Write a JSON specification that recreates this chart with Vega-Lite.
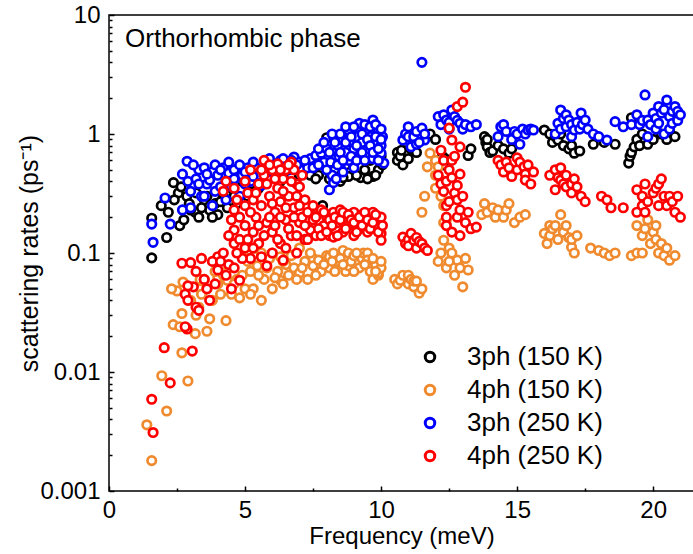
{
  "$schema": "https://vega.github.io/schema/vega-lite/v6.json",
  "autosize": {"type": "none"},
  "padding": {"left": 109, "top": 15, "right": 0, "bottom": 63},
  "width": 585,
  "height": 476,
  "config": {"view": {"stroke": "#000000", "strokeWidth": 1.5}, "font": "Liberation Sans"},
  "datasets": {
    "b150": [
      {"x":1.57,"y":0.196},{"x":1.57,"y":0.091},{"x":2.12,"y":0.135},{"x":1.92,"y":0.25},{"x":2.37,"y":0.39},{"x":2.55,"y":0.32},{"x":2.86,"y":0.3},{"x":2.18,"y":0.22},{"x":2.6,"y":0.17},{"x":3.17,"y":0.22},{"x":2.75,"y":0.19},{"x":2.95,"y":0.26},{"x":3.3,"y":0.2},{"x":3.5,"y":0.28},{"x":3.7,"y":0.23},{"x":3.9,"y":0.26},{"x":4.0,"y":0.21},{"x":4.2,"y":0.3},{"x":4.35,"y":0.24},{"x":4.5,"y":0.35},{"x":4.7,"y":0.26},{"x":4.9,"y":0.4},{"x":5.1,"y":0.3},{"x":5.3,"y":0.45},{"x":5.5,"y":0.35},{"x":5.7,"y":0.5},{"x":5.9,"y":0.42},{"x":6.1,"y":0.55},{"x":6.3,"y":0.4},{"x":6.5,"y":0.5},{"x":6.7,"y":0.45},{"x":6.9,"y":0.55},{"x":7.1,"y":0.48},{"x":7.3,"y":0.6},{"x":7.5,"y":0.5},{"x":7.7,"y":0.45},{"x":7.85,"y":0.25},{"x":7.9,"y":0.55},{"x":8.0,"y":0.93},{"x":8.1,"y":0.42},{"x":8.3,"y":0.5},{"x":8.5,"y":0.4},{"x":8.7,"y":0.55},{"x":8.8,"y":0.44},{"x":9.0,"y":0.6},{"x":9.25,"y":0.43},{"x":9.4,"y":0.5},{"x":9.6,"y":0.6},{"x":9.7,"y":0.44},{"x":9.9,"y":0.5},{"x":10.0,"y":0.65},
      {"x":2.4,"y":0.28},{"x":2.65,"y":0.36},{"x":3.0,"y":0.23},{"x":3.2,"y":0.32},{"x":3.4,"y":0.24},{"x":3.6,"y":0.3},{"x":3.8,"y":0.2},{"x":4.1,"y":0.27},{"x":4.6,"y":0.3},{"x":4.8,"y":0.45},{"x":5.0,"y":0.42},{"x":5.2,"y":0.38},{"x":5.4,"y":0.48},{"x":7.0,"y":0.45},{"x":7.4,"y":0.45},{"x":7.6,"y":0.42},{"x":8.2,"y":0.45},{"x":8.6,"y":0.43},{"x":9.1,"y":0.45},{"x":9.5,"y":0.42},{"x":9.8,"y":0.45},{"x":10.05,"y":0.55},
      {"x":10.6,"y":0.6},{"x":10.6,"y":0.7},{"x":10.7,"y":0.65},{"x":10.75,"y":0.73},{"x":10.8,"y":0.55},{"x":10.9,"y":0.85},{"x":11.0,"y":0.62},{"x":11.1,"y":0.75},{"x":11.2,"y":0.89},{"x":11.3,"y":0.7},{"x":11.5,"y":0.95},{"x":11.8,"y":1.0},{"x":12.0,"y":0.9},{"x":12.25,"y":0.65},{"x":12.3,"y":0.55},{"x":12.35,"y":0.62},{"x":13.2,"y":0.66},{"x":13.3,"y":0.75},{"x":13.8,"y":0.95},{"x":13.85,"y":0.85},{"x":13.9,"y":0.78},{"x":13.9,"y":0.9},{"x":14.0,"y":0.7},{"x":14.1,"y":0.72},{"x":14.3,"y":0.8},{"x":14.5,"y":0.75},{"x":14.7,"y":0.69},{"x":14.8,"y":0.75},{"x":16.0,"y":1.08},{"x":16.2,"y":1.0},{"x":16.3,"y":0.85},{"x":16.4,"y":0.95},{"x":16.5,"y":0.89},{"x":16.6,"y":1.0},{"x":16.7,"y":0.8},{"x":16.9,"y":0.75},{"x":17.0,"y":0.8},{"x":17.1,"y":0.69},{"x":17.3,"y":0.72},{"x":17.8,"y":0.82},{"x":18.2,"y":0.85},{"x":18.6,"y":0.82},{"x":19.1,"y":0.57},{"x":19.15,"y":0.65},{"x":19.2,"y":0.7},{"x":19.2,"y":1.37},{"x":19.3,"y":0.78},{"x":19.4,"y":0.9},{"x":19.5,"y":0.8},{"x":19.6,"y":1.0},{"x":19.8,"y":0.82},{"x":20.0,"y":0.9},{"x":20.3,"y":1.0},{"x":20.5,"y":0.9},{"x":20.6,"y":1.04},{"x":20.8,"y":0.95}
    ],
    "o150": [
      {"x":1.57,"y":0.0018},{"x":1.39,"y":0.0036},{"x":1.94,"y":0.0093},{"x":2.12,"y":0.0047},{"x":2.9,"y":0.0084},{"x":2.68,"y":0.0145},{"x":2.36,"y":0.025},{"x":2.68,"y":0.031},{"x":2.5,"y":0.048},{"x":2.72,"y":0.057},{"x":3.17,"y":0.021},{"x":2.3,"y":0.05},{"x":2.6,"y":0.024},{"x":3.2,"y":0.03},{"x":3.35,"y":0.05},{"x":3.35,"y":0.06},{"x":3.4,"y":0.045},{"x":3.6,"y":0.022},{"x":3.5,"y":0.06},{"x":3.7,"y":0.028},{"x":3.8,"y":0.04},{"x":4.0,"y":0.055},{"x":4.0,"y":0.062},{"x":4.3,"y":0.027},{"x":4.2,"y":0.065},{"x":4.35,"y":0.059},{"x":4.5,"y":0.045},{"x":4.8,"y":0.042},{"x":4.7,"y":0.06},{"x":5.0,"y":0.05},{"x":5.1,"y":0.105},{"x":5.3,"y":0.05},{"x":5.2,"y":0.07},{"x":5.4,"y":0.11},{"x":5.45,"y":0.078},{"x":5.6,"y":0.04},{"x":5.6,"y":0.1},{"x":5.7,"y":0.06},{"x":5.9,"y":0.09},{"x":6.0,"y":0.05},{"x":6.2,"y":0.07},{"x":6.3,"y":0.059},{"x":6.3,"y":0.093},{"x":6.4,"y":0.055},{"x":6.5,"y":0.08},{"x":6.6,"y":0.065},{"x":6.8,"y":0.075},{"x":7.0,"y":0.068},{"x":7.0,"y":0.11},{"x":7.2,"y":0.085},{"x":7.3,"y":0.06},{"x":7.5,"y":0.09},{"x":7.5,"y":0.078},{"x":7.7,"y":0.087},{"x":7.8,"y":0.07},{"x":8.0,"y":0.095},{"x":8.1,"y":0.075},{"x":8.1,"y":0.093},{"x":8.25,"y":0.1},{"x":8.4,"y":0.085},{"x":8.6,"y":0.105},{"x":8.7,"y":0.07},{"x":8.8,"y":0.1},{"x":8.8,"y":0.078},{"x":8.9,"y":0.085},{"x":9.0,"y":0.095},{"x":9.2,"y":0.075},{"x":9.3,"y":0.09},{"x":9.35,"y":0.1},{"x":9.5,"y":0.1},{"x":9.5,"y":0.087},{"x":9.6,"y":0.07},{"x":9.7,"y":0.06},{"x":9.8,"y":0.08},{"x":9.9,"y":0.065},{"x":9.9,"y":0.068},{"x":10.0,"y":0.075},
      {"x":3.0,"y":0.04},{"x":3.3,"y":0.035},{"x":3.6,"y":0.05},{"x":3.9,"y":0.07},{"x":4.1,"y":0.045},{"x":4.4,"y":0.075},{"x":4.6,"y":0.055},{"x":4.9,"y":0.065},{"x":5.1,"y":0.085},{"x":5.2,"y":0.045},{"x":5.5,"y":0.065},{"x":5.8,"y":0.075},{"x":6.0,"y":0.1},{"x":6.1,"y":0.062},{"x":6.4,"y":0.085},{"x":6.7,"y":0.095},{"x":6.9,"y":0.06},{"x":7.1,"y":0.075},{"x":7.4,"y":0.1},{"x":7.6,"y":0.065},{"x":7.9,"y":0.08},{"x":8.2,"y":0.085},{"x":8.3,"y":0.07},{"x":8.5,"y":0.09},{"x":8.6,"y":0.08},{"x":9.0,"y":0.07},{"x":9.1,"y":0.1},{"x":9.4,"y":0.08},{"x":9.7,"y":0.09},{"x":9.8,"y":0.07},{"x":10.0,"y":0.085},
      {"x":10.5,"y":0.06},{"x":10.6,"y":0.055},{"x":10.7,"y":0.059},{"x":10.8,"y":0.065},{"x":11.0,"y":0.055},{"x":11.0,"y":0.065},{"x":11.1,"y":0.06},{"x":11.2,"y":0.052},{"x":11.2,"y":0.058},{"x":11.3,"y":0.058},{"x":11.4,"y":0.046},{"x":11.5,"y":0.05},
      {"x":11.5,"y":0.22},{"x":11.6,"y":0.3},{"x":11.7,"y":0.53},{"x":11.8,"y":0.69},{"x":12.0,"y":0.6},{"x":12.0,"y":0.45},{"x":12.1,"y":0.53},{"x":12.2,"y":0.41},{"x":12.2,"y":0.3},{"x":12.0,"y":0.35},{"x":12.3,"y":0.25},{"x":12.4,"y":0.19},{"x":12.3,"y":0.18},{"x":12.3,"y":0.128},{"x":12.2,"y":0.1},{"x":12.5,"y":0.11},{"x":12.6,"y":0.1},{"x":12.4,"y":0.075},{"x":12.8,"y":0.087},{"x":13.2,"y":0.072},{"x":13.0,"y":0.052},{"x":12.5,"y":0.085},{"x":12.9,"y":0.075},{"x":12.1,"y":0.085},{"x":12.7,"y":0.065},{"x":13.1,"y":0.09},
      {"x":13.7,"y":0.21},{"x":13.8,"y":0.26},{"x":13.9,"y":0.22},{"x":14.1,"y":0.24},{"x":14.2,"y":0.2},{"x":14.3,"y":0.23},{"x":14.5,"y":0.2},{"x":14.6,"y":0.23},{"x":14.7,"y":0.26},{"x":14.9,"y":0.18},{"x":15.1,"y":0.2},{"x":15.3,"y":0.21},
      {"x":16.0,"y":0.146},{"x":16.1,"y":0.12},{"x":16.2,"y":0.14},{"x":16.2,"y":0.17},{"x":16.3,"y":0.16},{"x":16.4,"y":0.17},{"x":16.5,"y":0.13},{"x":16.6,"y":0.21},{"x":16.7,"y":0.15},{"x":16.8,"y":0.17},{"x":16.9,"y":0.135},{"x":17.0,"y":0.112},{"x":17.0,"y":0.13},{"x":17.1,"y":0.1},{"x":17.2,"y":0.14},
      {"x":17.7,"y":0.11},{"x":18.0,"y":0.105},{"x":18.2,"y":0.1},{"x":18.4,"y":0.095},{"x":18.6,"y":0.1},
      {"x":19.2,"y":0.095},{"x":19.4,"y":0.1},{"x":19.4,"y":0.17},{"x":19.6,"y":0.14},{"x":19.6,"y":0.1},{"x":19.7,"y":0.16},{"x":19.8,"y":0.19},{"x":19.9,"y":0.12},{"x":20.0,"y":0.15},{"x":20.1,"y":0.17},{"x":20.1,"y":0.13},{"x":20.2,"y":0.1},{"x":20.3,"y":0.12},{"x":20.4,"y":0.095},{"x":20.5,"y":0.11},{"x":20.6,"y":0.087},{"x":20.8,"y":0.095}
    ],
    "b250": [
      {"x":1.57,"y":0.175},{"x":1.62,"y":0.123},{"x":2.06,"y":0.29},{"x":2.25,"y":0.175},{"x":2.87,"y":0.59},{"x":2.7,"y":0.46},{"x":2.7,"y":0.23},{"x":2.9,"y":0.4},{"x":3.0,"y":0.24},{"x":3.0,"y":0.33},{"x":3.2,"y":0.42},{"x":3.3,"y":0.5},{"x":3.4,"y":0.3},{"x":3.5,"y":0.52},{"x":3.5,"y":0.3},{"x":3.6,"y":0.38},{"x":3.7,"y":0.41},{"x":3.8,"y":0.48},{"x":3.8,"y":0.25},{"x":3.9,"y":0.33},{"x":4.0,"y":0.45},{"x":4.2,"y":0.52},{"x":4.3,"y":0.4},{"x":4.3,"y":0.28},{"x":4.4,"y":0.47},{"x":4.5,"y":0.36},{"x":4.6,"y":0.5},{"x":4.7,"y":0.43},{"x":4.8,"y":0.3},{"x":4.9,"y":0.45},{"x":5.1,"y":0.52},{"x":5.2,"y":0.4},{"x":5.4,"y":0.52},{"x":5.5,"y":0.45},{"x":5.6,"y":0.37},{"x":5.8,"y":0.55},{"x":6.0,"y":0.48},{"x":6.3,"y":0.6},{"x":6.5,"y":0.55},{"x":6.8,"y":0.64},{"x":7.0,"y":0.58},{"x":7.1,"y":0.5},{"x":7.3,"y":0.52},{"x":7.4,"y":0.62},{"x":7.5,"y":0.52},{"x":7.6,"y":0.66},{"x":7.8,"y":0.69},{"x":7.9,"y":0.58},{"x":8.0,"y":0.75},{"x":8.1,"y":0.34},{"x":8.2,"y":0.45},{"x":8.25,"y":0.39},{"x":8.25,"y":0.95},{"x":8.3,"y":0.62},{"x":8.4,"y":0.8},{"x":8.5,"y":0.55},{"x":8.6,"y":0.9},{"x":8.6,"y":0.48},{"x":8.7,"y":0.7},{"x":8.8,"y":1.08},{"x":8.8,"y":0.6},{"x":8.9,"y":0.85},{"x":9.0,"y":0.75},{"x":9.0,"y":0.52},{"x":9.1,"y":0.95},{"x":9.2,"y":1.23},{"x":9.2,"y":0.65},{"x":9.3,"y":0.85},{"x":9.4,"y":1.05},{"x":9.5,"y":0.75},{"x":9.6,"y":0.95},{"x":9.7,"y":1.31},{"x":9.7,"y":0.62},{"x":9.8,"y":0.85},{"x":9.9,"y":1.05},{"x":10.0,"y":0.69},{"x":10.0,"y":0.8},{"x":10.1,"y":0.57},{"x":10.05,"y":0.95},
      {"x":3.1,"y":0.55},{"x":3.3,"y":0.38},{"x":3.6,"y":0.46},{"x":3.9,"y":0.55},{"x":4.1,"y":0.36},{"x":4.1,"y":0.5},{"x":4.4,"y":0.58},{"x":4.6,"y":0.42},{"x":4.8,"y":0.55},{"x":5.0,"y":0.38},{"x":5.0,"y":0.48},{"x":5.3,"y":0.58},{"x":5.3,"y":0.44},{"x":5.7,"y":0.5},{"x":5.9,"y":0.62},{"x":6.1,"y":0.55},{"x":6.2,"y":0.45},{"x":6.4,"y":0.62},{"x":6.6,"y":0.5},{"x":6.7,"y":0.6},{"x":6.9,"y":0.55},{"x":7.2,"y":0.6},{"x":7.7,"y":0.55},{"x":7.7,"y":0.75},{"x":7.9,"y":0.85},{"x":8.0,"y":0.5},{"x":8.1,"y":0.7},{"x":8.15,"y":0.58},{"x":8.2,"y":1.0},{"x":8.3,"y":0.85},{"x":8.35,"y":0.42},{"x":8.4,"y":0.55},{"x":8.45,"y":0.65},{"x":8.5,"y":1.0},{"x":8.5,"y":0.7},{"x":8.6,"y":0.6},{"x":8.7,"y":0.85},{"x":8.7,"y":1.15},{"x":8.9,"y":0.65},{"x":8.9,"y":0.95},{"x":9.0,"y":1.15},{"x":9.1,"y":0.8},{"x":9.1,"y":0.6},{"x":9.3,"y":1.0},{"x":9.3,"y":0.7},{"x":9.4,"y":0.6},{"x":9.4,"y":1.2},{"x":9.5,"y":0.9},{"x":9.6,"y":1.15},{"x":9.6,"y":0.8},{"x":9.7,"y":0.7},{"x":9.8,"y":1.2},{"x":9.8,"y":0.95},{"x":9.9,"y":0.75},{"x":9.9,"y":0.6},{"x":10.0,"y":1.1},{"x":10.0,"y":0.9},
      {"x":10.8,"y":0.89},{"x":10.9,"y":1.0},{"x":11.0,"y":1.15},{"x":11.0,"y":0.95},{"x":11.1,"y":0.78},{"x":11.2,"y":0.95},{"x":11.3,"y":1.05},{"x":11.3,"y":0.82},{"x":11.5,"y":1.12},{"x":11.5,"y":4.0},{"x":11.6,"y":0.89},{"x":11.6,"y":1.0},{"x":11.4,"y":0.85},{"x":12.1,"y":1.4},{"x":12.2,"y":1.2},{"x":12.3,"y":1.45},{"x":12.4,"y":1.31},{"x":12.5,"y":1.1},{"x":12.5,"y":1.25},{"x":12.6,"y":1.59},{"x":12.7,"y":1.4},{"x":12.8,"y":1.3},{"x":12.9,"y":1.23},{"x":13.0,"y":1.1},{"x":13.1,"y":1.2},{"x":13.3,"y":1.15},{"x":13.5,"y":1.2},
      {"x":14.3,"y":0.95},{"x":14.4,"y":1.15},{"x":14.5,"y":1.2},{"x":14.6,"y":1.05},{"x":14.8,"y":0.9},{"x":14.9,"y":1.05},{"x":15.0,"y":1.0},{"x":15.1,"y":0.82},{"x":15.2,"y":1.1},{"x":15.3,"y":1.0},{"x":15.4,"y":1.08},{"x":15.5,"y":1.1},{"x":15.6,"y":1.08},
      {"x":16.4,"y":1.0},{"x":16.5,"y":1.23},{"x":16.6,"y":1.59},{"x":16.6,"y":1.1},{"x":16.7,"y":1.35},{"x":16.8,"y":1.15},{"x":16.8,"y":1.45},{"x":16.9,"y":1.31},{"x":17.0,"y":0.95},{"x":17.0,"y":1.2},{"x":17.1,"y":1.08},{"x":17.2,"y":1.25},{"x":17.3,"y":1.1},{"x":17.35,"y":1.5},{"x":17.4,"y":1.2},{"x":17.5,"y":1.31},{"x":17.6,"y":1.1},{"x":17.8,"y":1.0},{"x":18.0,"y":0.95},{"x":18.3,"y":0.89},
      {"x":18.6,"y":1.27},{"x":18.9,"y":1.15},{"x":19.2,"y":1.2},{"x":19.4,"y":1.45},{"x":19.5,"y":1.2},{"x":19.6,"y":1.3},{"x":19.7,"y":2.13},{"x":19.8,"y":1.31},{"x":19.8,"y":0.95},{"x":19.9,"y":1.2},{"x":20.0,"y":1.5},{"x":20.1,"y":1.1},{"x":20.1,"y":1.35},{"x":20.2,"y":1.7},{"x":20.2,"y":1.23},{"x":20.3,"y":1.5},{"x":20.4,"y":1.0},{"x":20.4,"y":1.6},{"x":20.5,"y":1.93},{"x":20.6,"y":1.4},{"x":20.6,"y":1.1},{"x":20.7,"y":1.23},{"x":20.7,"y":1.55},{"x":20.8,"y":1.7},{"x":20.9,"y":1.3},{"x":20.9,"y":1.55},{"x":21.0,"y":1.45}
    ],
    "r250": [
      {"x":1.57,"y":0.0059},{"x":1.62,"y":0.0031},{"x":2.03,"y":0.016},{"x":2.25,"y":0.0081},{"x":3.06,"y":0.015},{"x":2.87,"y":0.023},{"x":2.68,"y":0.082},{"x":2.8,"y":0.045},{"x":3.1,"y":0.052},{"x":3.2,"y":0.035},{"x":2.9,"y":0.04},{"x":2.9,"y":0.053},{"x":3.0,"y":0.083},{"x":3.3,"y":0.033},{"x":2.8,"y":0.024},{"x":3.6,"y":0.05},{"x":3.7,"y":0.04},{"x":4.0,"y":0.072},{"x":4.5,"y":0.05},{"x":4.8,"y":0.059},{"x":4.0,"y":0.093},{"x":3.4,"y":0.09},{"x":3.8,"y":0.085},{"x":4.2,"y":0.1},{"x":4.4,"y":0.08},{"x":4.6,"y":0.12},{"x":4.6,"y":0.156},{"x":4.6,"y":0.23},{"x":4.6,"y":0.35},{"x":4.5,"y":0.19},{"x":4.8,"y":0.13},{"x":5.0,"y":0.11},{"x":5.0,"y":0.17},{"x":5.0,"y":0.25},{"x":5.1,"y":0.32},{"x":5.2,"y":0.09},{"x":5.3,"y":0.28},{"x":5.3,"y":0.15},{"x":5.4,"y":0.2},{"x":5.5,"y":0.38},{"x":5.5,"y":0.12},{"x":5.6,"y":0.093},{"x":5.6,"y":0.25},{"x":5.7,"y":0.6},{"x":5.7,"y":0.45},{"x":5.8,"y":0.078},{"x":5.8,"y":0.18},{"x":5.9,"y":0.3},{"x":6.0,"y":0.15},{"x":6.0,"y":0.5},{"x":6.1,"y":0.22},{"x":6.2,"y":0.56},{"x":6.2,"y":0.35},{"x":6.3,"y":0.12},{"x":6.3,"y":0.27},{"x":6.4,"y":0.087},{"x":6.4,"y":0.42},{"x":6.5,"y":0.19},{"x":6.5,"y":0.5},{"x":6.6,"y":0.3},{"x":6.7,"y":0.14},{"x":6.7,"y":0.58},{"x":6.8,"y":0.5},{"x":6.8,"y":0.24},{"x":6.9,"y":0.1},{"x":6.9,"y":0.38},{"x":7.0,"y":0.36},{"x":7.0,"y":0.18},{"x":7.1,"y":0.45},{"x":7.2,"y":0.13},{"x":7.2,"y":0.28},{"x":7.4,"y":0.156},{"x":7.4,"y":0.22},{"x":7.5,"y":0.19},{"x":7.6,"y":0.14},{"x":7.8,"y":0.23},{"x":7.9,"y":0.17},{"x":8.0,"y":0.2},{"x":8.1,"y":0.14},{"x":8.25,"y":0.22},{"x":8.25,"y":0.136},{"x":8.4,"y":0.18},{"x":8.5,"y":0.23},{"x":8.6,"y":0.15},{"x":8.7,"y":0.2},{"x":8.8,"y":0.17},{"x":9.0,"y":0.22},{"x":9.0,"y":0.14},{"x":9.1,"y":0.19},{"x":9.2,"y":0.16},{"x":9.3,"y":0.21},{"x":9.4,"y":0.18},{"x":9.5,"y":0.15},{"x":9.6,"y":0.2},{"x":9.7,"y":0.22},{"x":9.8,"y":0.17},{"x":9.9,"y":0.19},{"x":10.0,"y":0.146},{"x":10.0,"y":0.128},{"x":10.0,"y":0.2},{"x":4.2,"y":0.33},{"x":4.3,"y":0.4},
      {"x":4.4,"y":0.14},{"x":4.7,"y":0.28},{"x":4.8,"y":0.2},{"x":4.9,"y":0.09},{"x":5.0,"y":0.4},{"x":5.1,"y":0.13},{"x":5.2,"y":0.22},{"x":5.2,"y":0.5},{"x":5.3,"y":0.11},{"x":5.4,"y":0.32},{"x":5.5,"y":0.17},{"x":5.6,"y":0.5},{"x":5.7,"y":0.14},{"x":5.8,"y":0.38},{"x":5.9,"y":0.55},{"x":5.9,"y":0.2},{"x":6.0,"y":0.1},{"x":6.0,"y":0.26},{"x":6.1,"y":0.42},{"x":6.1,"y":0.17},{"x":6.2,"y":0.13},{"x":6.3,"y":0.5},{"x":6.3,"y":0.2},{"x":6.4,"y":0.33},{"x":6.5,"y":0.11},{"x":6.5,"y":0.24},{"x":6.6,"y":0.55},{"x":6.6,"y":0.16},{"x":6.7,"y":0.4},{"x":6.8,"y":0.2},{"x":6.9,"y":0.3},{"x":6.9,"y":0.14},{"x":7.0,"y":0.25},{"x":7.1,"y":0.2},{"x":7.2,"y":0.17},{"x":7.3,"y":0.22},{"x":7.3,"y":0.13},{"x":7.5,"y":0.25},{"x":7.6,"y":0.2},{"x":7.7,"y":0.16},{"x":7.8,"y":0.14},{"x":7.9,"y":0.22},{"x":8.0,"y":0.15},{"x":8.1,"y":0.19},{"x":8.2,"y":0.17},{"x":8.3,"y":0.2},{"x":8.4,"y":0.14},{"x":8.5,"y":0.19},{"x":8.6,"y":0.22},{"x":8.7,"y":0.16},{"x":8.8,"y":0.21},{"x":8.9,"y":0.19},{"x":9.0,"y":0.18},{"x":9.1,"y":0.15},{"x":9.2,"y":0.2},{"x":9.3,"y":0.17},{"x":9.4,"y":0.22},{"x":9.5,"y":0.19},{"x":9.6,"y":0.16},{"x":9.7,"y":0.18},{"x":9.8,"y":0.21},{"x":9.9,"y":0.15},{"x":10.05,"y":0.17},{"x":3.2,"y":0.07},{"x":3.5,"y":0.06},{"x":3.9,"y":0.055},{"x":4.1,"y":0.085},{"x":4.3,"y":0.065},{"x":4.6,"y":0.075},{"x":4.7,"y":0.1},
      {"x":10.8,"y":0.136},{"x":10.9,"y":0.12},{"x":11.0,"y":0.13},{"x":11.0,"y":0.115},{"x":11.1,"y":0.146},{"x":11.2,"y":0.128},{"x":11.3,"y":0.11},{"x":11.3,"y":0.135},{"x":11.4,"y":0.125},{"x":11.5,"y":0.12},{"x":11.6,"y":0.11},{"x":11.7,"y":0.105},
      {"x":12.1,"y":0.45},{"x":12.2,"y":0.73},{"x":12.2,"y":0.38},{"x":12.3,"y":0.6},{"x":12.3,"y":0.33},{"x":12.4,"y":0.25},{"x":12.4,"y":0.4},{"x":12.4,"y":0.2},{"x":12.4,"y":0.17},{"x":12.5,"y":1.12},{"x":12.5,"y":0.5},{"x":12.5,"y":0.27},{"x":12.6,"y":0.89},{"x":12.6,"y":0.6},{"x":12.6,"y":0.43},{"x":12.6,"y":0.15},{"x":12.7,"y":0.32},{"x":12.7,"y":0.65},{"x":12.8,"y":1.7},{"x":12.8,"y":0.37},{"x":12.8,"y":0.28},{"x":12.8,"y":0.2},{"x":12.9,"y":0.78},{"x":12.9,"y":0.46},{"x":12.9,"y":0.23},{"x":12.9,"y":0.14},{"x":13.0,"y":1.85},{"x":13.0,"y":0.3},{"x":13.1,"y":2.47},{"x":13.1,"y":0.18},{"x":13.2,"y":0.22},{"x":13.3,"y":0.16},{"x":13.5,"y":0.165},
      {"x":14.3,"y":0.6},{"x":14.4,"y":0.55},{"x":14.5,"y":0.48},{"x":14.6,"y":0.58},{"x":14.7,"y":0.52},{"x":14.8,"y":0.44},{"x":15.0,"y":0.63},{"x":15.0,"y":0.5},{"x":15.1,"y":0.58},{"x":15.25,"y":0.53},{"x":15.3,"y":0.46},{"x":15.3,"y":0.41},{"x":15.4,"y":0.55},{"x":15.6,"y":0.48},{"x":15.5,"y":0.38},
      {"x":16.2,"y":0.45},{"x":16.4,"y":0.34},{"x":16.4,"y":0.5},{"x":16.5,"y":0.43},{"x":16.6,"y":0.41},{"x":16.6,"y":0.52},{"x":16.7,"y":0.38},{"x":16.8,"y":0.45},{"x":16.8,"y":0.36},{"x":17.0,"y":0.38},{"x":17.0,"y":0.32},{"x":17.1,"y":0.42},{"x":17.2,"y":0.36},{"x":17.35,"y":0.3},{"x":17.5,"y":0.27},
      {"x":18.1,"y":0.3},{"x":18.3,"y":0.28},{"x":18.45,"y":0.24},{"x":18.9,"y":0.24},
      {"x":19.4,"y":0.34},{"x":19.4,"y":0.22},{"x":19.6,"y":0.3},{"x":19.6,"y":0.25},{"x":19.7,"y":0.38},{"x":19.7,"y":0.22},{"x":19.8,"y":0.27},{"x":20.0,"y":0.32},{"x":20.1,"y":0.35},{"x":20.2,"y":0.25},{"x":20.2,"y":0.38},{"x":20.3,"y":0.42},{"x":20.4,"y":0.3},{"x":20.5,"y":0.25},{"x":20.6,"y":0.3},{"x":20.7,"y":0.27},{"x":20.8,"y":0.22},{"x":20.9,"y":0.3},{"x":21.0,"y":0.2}
    ]
  },
  "layer": [
    {
      "encoding": {
        "x": {"field": "x", "type": "quantitative", "scale": {"domain": [0, 21.5], "nice": false, "zero": false},
          "axis": {"title": "Frequency (meV)", "titleFontSize": 24, "titleFontWeight": "normal", "titleColor": "#000000", "titlePadding": 0,
            "values": [0, 2.5, 5, 7.5, 10, 12.5, 15, 17.5, 20],
            "labelExpr": "datum.value % 5 == 0 ? datum.label : ''",
            "labelFontSize": 24, "labelColor": "#000000", "labelPadding": 12, "labelFlush": false, "labelOverlap": false,
            "tickColor": "#000000", "tickWidth": 1.5,
            "tickSize": {"condition": {"test": "datum.value % 5 != 0", "value": -3}, "value": -5},
            "domain": false, "grid": false}},
        "y": {"field": "y", "type": "quantitative", "scale": {"type": "log", "domain": [0.001, 10], "nice": false},
          "axis": {"title": "scattering rates (ps⁻¹)", "titleFontSize": 25, "titleFontWeight": "normal", "titleColor": "#000000", "titlePadding": -3,
            "values": [0.001,0.002,0.003,0.004,0.005,0.006,0.007,0.008,0.009,0.01,0.02,0.03,0.04,0.05,0.06,0.07,0.08,0.09,0.1,0.2,0.3,0.4,0.5,0.6,0.7,0.8,0.9,1,2,3,4,5,6,7,8,9,10],
            "format": "~g",
            "labelExpr": "(datum.value == 0.001 || datum.value == 0.01 || datum.value == 0.1 || datum.value == 1 || datum.value == 10) ? datum.label : ''",
            "labelFontSize": 24, "labelColor": "#000000", "labelPadding": 14, "labelFlush": false, "labelOverlap": false,
            "tickColor": "#000000", "tickWidth": 1.5,
            "tickSize": {"condition": {"test": "!(datum.value == 0.001 || datum.value == 0.01 || datum.value == 0.1 || datum.value == 1 || datum.value == 10)", "value": -3}, "value": -5},
            "domain": false, "grid": false}},
        "color": {"type": "nominal",
          "scale": {"domain": ["3ph (150 K)", "4ph (150 K)", "3ph (250 K)", "4ph (250 K)"], "range": ["#000000", "#F08A2E", "#0000FF", "#FF0000"]},
          "legend": {"title": null, "orient": "none", "legendX": 308, "legendY": 329, "padding": 0, "labelFontSize": 26, "labelColor": "#000000", "labelOffset": 24, "rowPadding": 7, "symbolType": "circle", "symbolSize": 90, "symbolStrokeWidth": 3, "symbolFillColor": "#FFFFFF"}}
      },
      "layer": [
        {"data": {"name": "b150"}, "mark": {"type": "point", "shape": "circle", "filled": false, "fill": "#FFFFFF", "fillOpacity": 1, "opacity": 1, "strokeWidth": 2.7, "size": 72},
         "encoding": {"color": {"datum": "3ph (150 K)", "type": "nominal"}}},
        {"data": {"name": "o150"}, "mark": {"type": "point", "shape": "circle", "filled": false, "fill": "#FFFFFF", "fillOpacity": 1, "opacity": 1, "strokeWidth": 2.7, "size": 72},
         "encoding": {"color": {"datum": "4ph (150 K)", "type": "nominal"}}},
        {"data": {"name": "b250"}, "mark": {"type": "point", "shape": "circle", "filled": false, "fill": "#FFFFFF", "fillOpacity": 1, "opacity": 1, "strokeWidth": 2.7, "size": 72},
         "encoding": {"color": {"datum": "3ph (250 K)", "type": "nominal"}}},
        {"data": {"name": "r250"}, "mark": {"type": "point", "shape": "circle", "filled": false, "fill": "#FFFFFF", "fillOpacity": 1, "opacity": 1, "strokeWidth": 2.7, "size": 72},
         "encoding": {"color": {"datum": "4ph (250 K)", "type": "nominal"}}}
      ]
    },
    {"data": {"values": [{"label": "Orthorhombic phase"}]},
     "mark": {"type": "text", "align": "left", "baseline": "alphabetic", "fontSize": 26, "font": "Liberation Sans", "color": "#000000"},
     "encoding": {"x": {"datum": 0.59, "type": "quantitative"}, "y": {"datum": 5.38, "type": "quantitative"}, "text": {"field": "label", "type": "nominal"}}}
  ]
}
